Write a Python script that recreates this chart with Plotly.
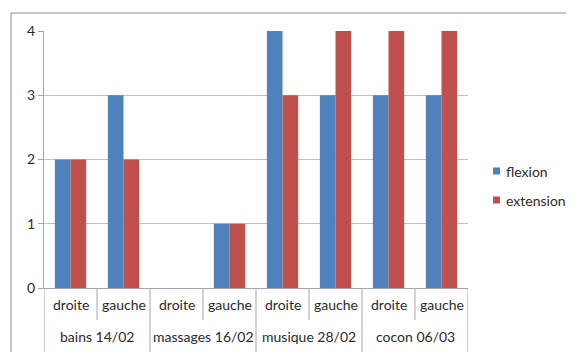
import plotly.graph_objects as go

groups = ["bains 14/02", "massages 16/02", "musique 28/02", "cocon 06/03"]
sides = ["droite", "gauche"]
flexion = [2, 3, 0, 1, 4, 3, 3, 3]
extension = [2, 2, 0, 1, 3, 4, 4, 4]
series_names = ["flexion", "extension"]
colors = ["#4F81BD", "#C0504D"]

inner = [s for g in groups for s in sides]
xs = list(range(len(inner)))
n_in = len(sides)

FONT = "Lato"
FS = 14
TXT = "#2B2B2B"
GRID = "#C0C0C0"
AX = "#A6A6A6"

# page body has 8px margin; plot area in figure pixels
L, T, W, H = 36, 23, 424, 257
FW, FH = 574, 352


def px(X):
    return (X - L) / W


def py(Y):
    return (T + H - Y) / H


fig = go.Figure()
for name, vals, c in zip(series_names, [flexion, extension], colors):
    fig.add_trace(go.Bar(x=xs, y=vals, name=name, marker=dict(color=c, line=dict(width=0)),
                         showlegend=False))

annotations = []
for x, lab in zip(xs, inner):
    annotations.append(dict(x=x, y=py(T + H + 16), xref="x", yref="paper", text=lab, showarrow=False,
                            xanchor="center", yanchor="middle", font=dict(family=FONT, size=FS, color=TXT)))
for gi, g in enumerate(groups):
    cx = gi * n_in + (n_in - 1) / 2
    annotations.append(dict(x=cx, y=py(T + H + 48), xref="x", yref="paper", text=g, showarrow=False,
                            xanchor="center", yanchor="middle", font=dict(family=FONT, size=FS, color=TXT)))

shapes = []
for k in range(len(inner) + 1):
    xb = k - 0.5
    outer = (k % n_in == 0)
    shapes.append(dict(type="line", xref="x", yref="paper", x0=xb, x1=xb, y0=0,
                       y1=py(FH) if outer else py(T + H + 32), line=dict(color=AX, width=1)))
# chart border
shapes.append(dict(type="rect", xref="paper", yref="paper", x0=px(3), x1=px(FW + 20), y0=py(FH + 20), y1=py(5),
                   line=dict(color="#8C8C8C", width=1), fillcolor="rgba(0,0,0,0)", layer="below"))

# legend (manual, Excel style)
for i, (name, c) in enumerate(zip(series_names, colors)):
    yc = 163 + 29 * i
    shapes.append(dict(type="rect", xref="paper", yref="paper", x0=px(485), x1=px(492),
                       y0=py(yc + 3.5), y1=py(yc - 3.5), line=dict(width=0), fillcolor=c))
    annotations.append(dict(x=px(496), y=py(yc), xref="paper", yref="paper", text=name, showarrow=False,
                            xanchor="left", yanchor="middle", font=dict(family=FONT, size=FS, color=TXT)))

fig.update_layout(
    width=FW, height=FH,
    margin=dict(l=L, r=FW - L - W, t=T, b=FH - T - H, autoexpand=False),
    paper_bgcolor="white", plot_bgcolor="white",
    barmode="group", bargap=0.41, bargroupgap=0,
    showlegend=False,
    font=dict(family=FONT, size=FS, color=TXT),
    xaxis=dict(range=[-0.5, len(inner) - 0.5], showticklabels=False, showgrid=False,
               zeroline=False, showline=True, linecolor=AX, linewidth=1, ticks=""),
    yaxis=dict(range=[0, 4], dtick=1, tick0=0, showgrid=True, gridcolor=GRID, gridwidth=1,
               zeroline=False, showline=True, linecolor=AX, linewidth=1,
               ticks="outside", ticklen=5, tickcolor=AX,
               tickfont=dict(family=FONT, size=FS, color=TXT)),
    annotations=annotations, shapes=shapes,
)
fig.write_html("out.html")
